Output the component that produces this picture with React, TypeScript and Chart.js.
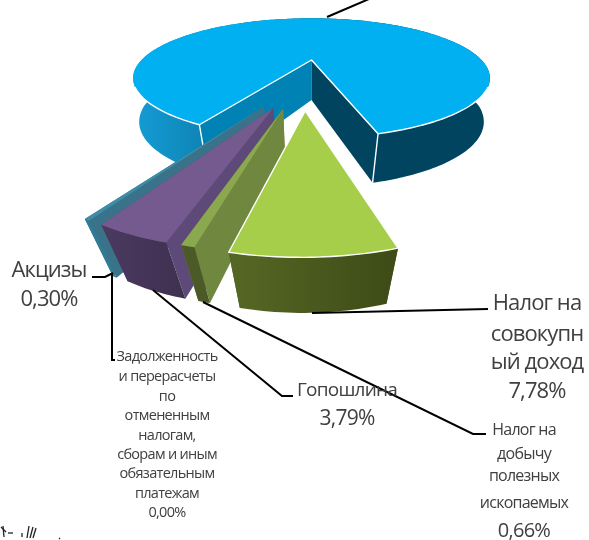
import { useEffect, useRef } from "react";
import { Chart, registerables } from "chart.js";

Chart.register(...registerables);

// ---- data ----
const categories = [
  "Прочие налоговые доходы",
  "Налог на совокупный доход",
  "Налог на добычу полезных ископаемых",
  "Гопошлина",
  "Задолженность и перерасчеты по отмененным налогам, сборам и иным обязательным платежам",
  "Акцизы",
];
const shares = [87.47, 7.78, 0.66, 3.79, 0.0, 0.3];

const labelAkcizy = ["Акцизы", "0,30%"];
const labelDebt = ["Задолженность", "и перерасчеты", "по", "отмененным", "налогам,", "сборам и иным", "обязательным", "платежам", "0,00%"];
const labelDuty = ["Гопошлина", "3,79%"];
const labelTotal = ["Налог на", "совокупн", "ый доход", "7,78%"];
const labelMining = ["Налог на", "добычу", "полезных", "ископаемых", "0,66%"];

// ---- projection of the pie plane ----
const CX = 311.5, CY = 60, K = 170, TILT = 0.32, D = 3.3;
const ROTATION = 209;

type P = [number, number];
function project(x: number, z: number): P {
  const p = 1 / (1 - z / D);
  return [CX + K * x * p, CY + K * TILT * z * p];
}
function down(x: number, z: number): P {
  const [sx, sy] = project(x, z);
  const f = 0.985 - 0.07 * Math.max(z, 0);
  return [CX + (sx - CX) * f, sy + 40 + 9 * z + 6 * x * x];
}

interface Look {
  order: number;
  ox: number;
  oz: number;
  top: string;
  start: string;
  end: string;
  front: [number, string][];
  frontX: [number, number];
  edge: boolean;
}
const looks: Look[] = [
  { order: 0, ox: 0, oz: 0, top: "#00B0F0", start: "#0082B4", end: "#004460",
    front: [[0, "#149DD6"], [0.18, "#0F86B8"], [0.44, "#05628A"], [0.445, "#004460"], [1, "#004460"]], frontX: [133, 492], edge: true },
  { order: 4, ox: -0.029, oz: 0.728, top: "#A6CE4B", start: "#4F5F20", end: "#4F5F20",
    front: [[0, "#556724"], [1, "#3F4C17"]], frontX: [235, 388], edge: true },
  { order: 3, ox: -0.131, oz: 0.706, top: "#8BA84F", start: "#6F873E", end: "#6F873E",
    front: [[0, "#4B5A27"], [1, "#4B5A27"]], frontX: [180, 210], edge: false },
  { order: 2, ox: -0.177, oz: 0.695, top: "#755A8F", start: "#5E4A78", end: "#5E4A78",
    front: [[0, "#4A3A60"], [1, "#3F3050"]], frontX: [102, 185], edge: false },
  { order: 9, ox: 0, oz: 0, top: "#000", start: "#000", end: "#000", front: [[0, "#000"]], frontX: [0, 1], edge: false },
  { order: 1, ox: -0.222, oz: 0.676, top: "#3E8DA6", start: "#3A7289", end: "#3A7289",
    front: [[0, "#2F7C96"], [1, "#2F7C96"]], frontX: [85, 125], edge: false },
];

function poly(ctx: CanvasRenderingContext2D, pts: P[]) {
  ctx.beginPath();
  pts.forEach((q, i) => (i ? ctx.lineTo(q[0], q[1]) : ctx.moveTo(q[0], q[1])));
  ctx.closePath();
}

function drawSlice(ctx: CanvasRenderingContext2D, a0: number, a1: number, look: Look) {
  const n = Math.max(3, Math.ceil((a1 - a0) / 0.02));
  const tops: P[] = [], bots: P[] = [];
  for (let i = 0; i <= n; i++) {
    const a = a0 + ((a1 - a0) * i) / n;
    const x = look.ox + Math.cos(a), z = look.oz + Math.sin(a);
    tops.push(project(x, z));
    bots.push(down(x, z));
  }
  const apexT = project(look.ox, look.oz);
  const apexB = down(look.ox, look.oz);
  const fill = (pts: P[], c: string | CanvasGradient) => {
    poly(ctx, pts);
    ctx.fillStyle = c;
    ctx.fill();
  };
  const g = ctx.createLinearGradient(look.frontX[0], 0, look.frontX[1], 0);
  look.front.forEach(([o, c]) => g.addColorStop(o, c));
  if (look.order === 0) {
    // the notch looks into the slice: outer wall first, then the radial walls
    fill([...tops, ...bots.slice().reverse()], g);
    fill([apexT, tops[0], bots[0], apexB], look.start);
    fill([apexT, tops[n], bots[n], apexB], look.end);
  } else {
    // exploded wedges: radial walls first, outer wall in front of them
    fill([apexT, tops[n], bots[n], apexB], look.end);
    fill([apexT, tops[0], bots[0], apexB], look.start);
    fill([...tops, ...bots.slice().reverse()], g);
  }
  // top face
  fill([apexT, ...tops], look.top);
  if (look.edge) {
    ctx.strokeStyle = "#FFFFFF";
    ctx.lineWidth = 1.4;
    ctx.lineJoin = "round";
    if (look.order === 0) {
      ctx.beginPath();
      ctx.moveTo(tops[n][0], tops[n][1]);
      ctx.lineTo(apexT[0], apexT[1]);
      ctx.lineTo(tops[0][0], tops[0][1]);
      ctx.moveTo(bots[0][0], bots[0][1]);
      ctx.lineTo(tops[0][0], tops[0][1]);
      ctx.moveTo(bots[n][0], bots[n][1]);
      ctx.lineTo(tops[n][0], tops[n][1]);
      ctx.stroke();
      const arc = (from: number, to: number, step: number) => {
        ctx.beginPath();
        for (let i = from; step > 0 ? i <= to : i >= to; i += step) {
          const q = tops[i];
          if (q[1] < 86) break;
          ctx.lineTo(q[0], q[1]);
        }
        ctx.stroke();
      };
      arc(0, n, 1);
      arc(n, 0, -1);
    } else {
      poly(ctx, [apexT, ...tops]);
      ctx.stroke();
    }
  }
}

const GREY = "#404040";
function textBlock(ctx: CanvasRenderingContext2D, lines: string[], cx: number, ys: number[], sizes: number[], spacing: string) {
  ctx.fillStyle = GREY;
  ctx.textAlign = "center";
  ctx.textBaseline = "middle";
  (ctx as any).letterSpacing = spacing;
  lines.forEach((t, i) => {
    ctx.font = `500 ${sizes[i] ?? sizes[0]}px "Open Sans"`;
    ctx.fillText(t, cx, ys[i]);
  });
  (ctx as any).letterSpacing = "0px";
}

function leader(ctx: CanvasRenderingContext2D, pts: P[]) {
  ctx.strokeStyle = "#000000";
  ctx.lineWidth = 2;
  ctx.lineJoin = "miter";
  ctx.beginPath();
  pts.forEach((q, i) => (i ? ctx.lineTo(q[0], q[1]) : ctx.moveTo(q[0], q[1])));
  ctx.stroke();
}

const piePlugin = {
  id: "projectedPie",
  beforeDatasetsDraw(chart: any) {
    const ctx: CanvasRenderingContext2D = chart.ctx;
    const arcs = chart.getDatasetMeta(0).data;
    const idx = arcs.map((_: any, i: number) => i).filter((i: number) => shares[i] > 0);
    idx.sort((a: number, b: number) => looks[a].order - looks[b].order);
    ctx.save();
    for (const i of idx) {
      const { startAngle, endAngle } = arcs[i].getProps(["startAngle", "endAngle"], true);
      drawSlice(ctx, startAngle, endAngle, looks[i]);
    }
    leader(ctx, [[327, 17], [376, -4]]);
    leader(ctx, [[92, 277], [105, 277], [113, 273]]);
    leader(ctx, [[112, 274], [112, 360], [115, 360]]);
    leader(ctx, [[153, 290], [282, 396], [293, 396]]);
    leader(ctx, [[203, 302], [473, 434], [486, 434]]);
    leader(ctx, [[312, 313], [488, 309]]);

    textBlock(ctx, labelAkcizy, 49, [271, 300], [22, 22], "-0.9px");
    textBlock(ctx, labelDebt, 167, [357, 377, 397, 416, 436, 455, 474, 494, 513], [14.5], "-0.7px");
    textBlock(ctx, labelDuty, 347, [391, 419], [19, 21], "-0.75px");
    textBlock(ctx, labelTotal, 537, [304, 335, 363, 392], [22], "-0.9px");
    textBlock(ctx, labelMining, 524, [430, 454, 476, 503, 531], [16, 16, 16, 16, 20], "-0.75px");

    // scan specks at the lower left corner
    ctx.strokeStyle = "#222222";
    ctx.lineWidth = 1.3;
    const specks: [number, number, number, number][] = [
      [1, 527, 6, 532], [3, 526, 4, 537], [8, 533, 13, 533], [22, 533, 22, 537], [29, 526, 27, 538], [33, 527, 30, 538], [36, 528, 33, 538], [59, 538, 60, 539],
    ];
    specks.forEach(([a, b, c, d]) => {
      ctx.beginPath();
      ctx.moveTo(a, b);
      ctx.lineTo(c, d);
      ctx.stroke();
    });
    ctx.restore();
    return false;
  },
};

export default function App() {
  const ref = useRef<HTMLCanvasElement>(null);
  useEffect(() => {
    document.body.style.margin = "0";
    const chart = new Chart(ref.current!, {
      type: "pie",
      data: { labels: categories, datasets: [{ data: shares, borderWidth: 0 }] },
      options: {
        animation: false,
        responsive: false,
        rotation: ROTATION,
        plugins: { legend: { display: false }, tooltip: { enabled: false } },
      },
      plugins: [piePlugin],
    } as any);
    return () => chart.destroy();
  }, []);
  return <canvas ref={ref} width={589} height={540} style={{ display: "block" }} />;
}
